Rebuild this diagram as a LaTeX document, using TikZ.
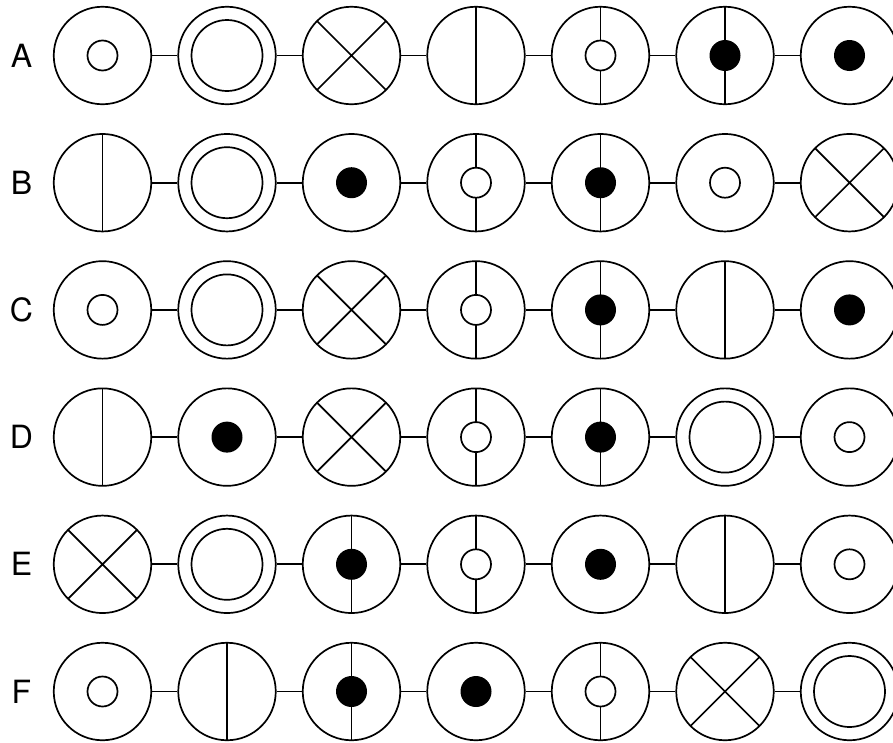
\documentclass[tikz,border=0pt]{standalone}
\usepackage{fontspec}
\setmainfont{TeX Gyre Heros}
\begin{document}
\begin{tikzpicture}[x=1pt,y=1pt,line width=1.7pt,
  sym/.style={circle, draw, minimum size=97.5pt, inner sep=0pt},
  so/.style={path picture={\draw (path picture bounding box.center) circle (15pt);}},
  sf/.style={path picture={\fill (path picture bounding box.center) circle (15.5pt);}},
  sd/.style={path picture={\draw (path picture bounding box.center) circle (35.5pt);}},
  sx/.style={path picture={\draw (path picture bounding box.north west) -- (path picture bounding box.south east)
      (path picture bounding box.north east) -- (path picture bounding box.south west);}},
  sv/.style={path picture={\draw (path picture bounding box.north) -- (path picture bounding box.south);}},
  svo/.style={path picture={\draw (path picture bounding box.north) -- (path picture bounding box.south);
      \draw[fill=white] (path picture bounding box.center) circle (15pt);}},
  svf/.style={path picture={\draw (path picture bounding box.north) -- (path picture bounding box.south);
      \fill (path picture bounding box.center) circle (15.5pt);}},
  lab/.style={font=\fontsize{32}{36}\selectfont, inner sep=0pt}
]
\useasboundingbox (0,0) rectangle (893,-742);
\foreach \r/\lab/\syms in {
  1/A/{o,d,x,v,vo,vf,f},
  2/B/{v,d,f,vo,vf,o,x},
  3/C/{o,d,x,vo,vf,v,f},
  4/D/{v,f,x,vo,vf,d,o},
  5/E/{x,d,vf,vo,f,v,o},
  6/F/{o,v,vf,f,vo,x,d}}{
  \pgfmathsetmacro{\yy}{-55.5-127.2*(\r-1)}
  \node[lab] (lab\lab) at (21.5,\yy) {\lab};
  \foreach \s [count=\c] in \syms {
    \pgfmathsetmacro{\xx}{102.5+124.5*(\c-1)}
    \node[sym, s\s] (\lab\c) at (\xx,\yy) {};
  }
  \foreach \c in {1,...,6}{
    \pgfmathtruncatemacro{\n}{\c+1}
    \draw (\lab\c) -- (\lab\n);
  }
}
\end{tikzpicture}
\end{document}
